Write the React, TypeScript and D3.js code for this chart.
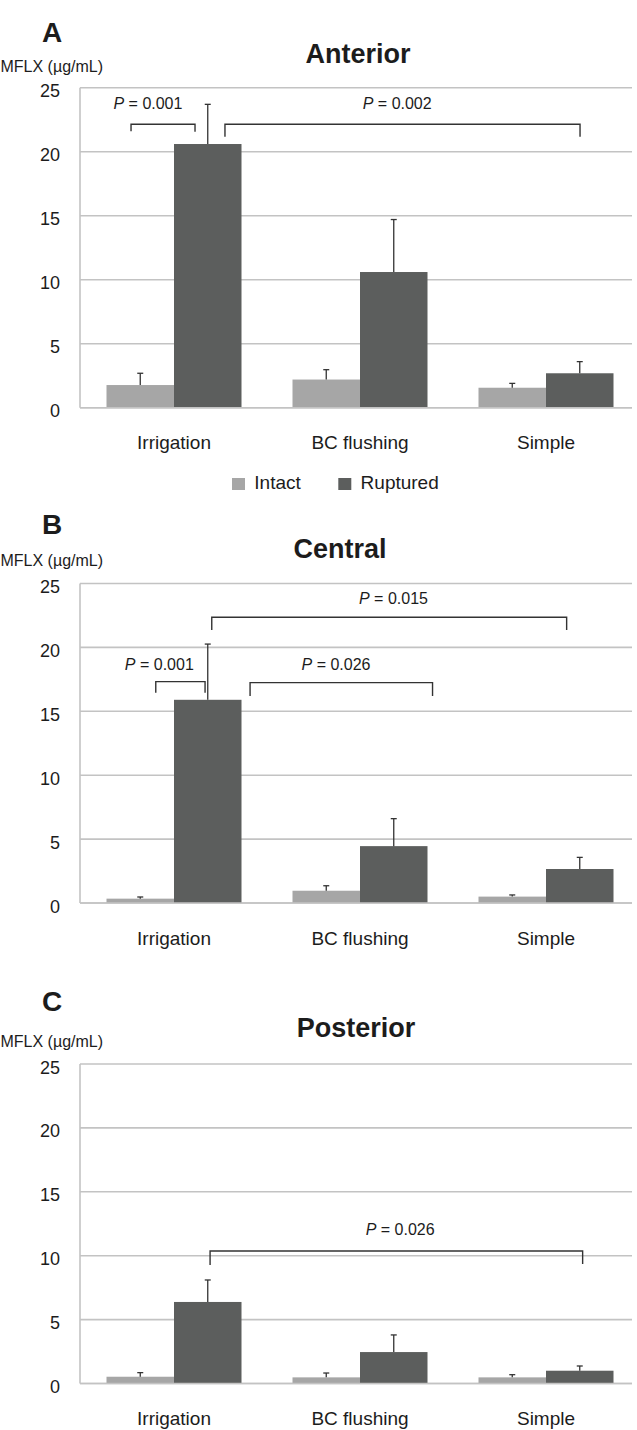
import React from "react";
import * as d3 from "d3";

// ---------- data ----------
const categories = ["Irrigation", "BC flushing", "Simple"];
const seriesNames = ["Intact", "Ruptured"];
const yTicks = [0, 5, 10, 15, 20, 25];

// Panel A: Anterior
const anteriorIntact = [1.77, 2.2, 1.56];
const anteriorIntactSD = [0.92, 0.77, 0.34];
const anteriorRuptured = [20.6, 10.6, 2.69];
const anteriorRupturedSD = [3.1, 4.1, 0.91];

// Panel B: Central
const centralIntact = [0.34, 0.96, 0.5];
const centralIntactSD = [0.13, 0.39, 0.13];
const centralRuptured = [15.9, 4.45, 2.66];
const centralRupturedSD = [4.36, 2.15, 0.91];

// Panel C: Posterior
const posteriorIntact = [0.53, 0.48, 0.48];
const posteriorIntactSD = [0.32, 0.34, 0.21];
const posteriorRuptured = [6.38, 2.46, 1.0];
const posteriorRupturedSD = [1.72, 1.34, 0.37];

// significance brackets: x in category units (0 = centre of first category), y in data units
type Bracket = { x1: number; x2: number; top: number; leg1: number; leg2: number; label: string; lx: number; ly: number };
const anteriorBrackets: Bracket[] = [
  { x1: -0.231, x2: 0.113, top: 22.14, leg1: 21.6, leg2: 21.55, label: "0.001", lx: -0.14, ly: 23.33 },
  { x1: 0.274, x2: 2.183, top: 22.14, leg1: 21.17, leg2: 21.17, label: "0.002", lx: 1.2, ly: 23.33 },
];
const centralBrackets: Bracket[] = [
  { x1: 0.203, x2: 2.111, top: 22.36, leg1: 21.36, leg2: 21.36, label: "0.015", lx: 1.18, ly: 23.38 },
  { x1: -0.098, x2: 0.167, top: 17.32, leg1: 16.46, leg2: 16.46, label: "0.001", lx: -0.079, ly: 18.23 },
  { x1: 0.409, x2: 1.39, top: 17.24, leg1: 16.2, leg2: 16.2, label: "0.026", lx: 0.871, ly: 18.23 },
];
const posteriorBrackets: Bracket[] = [
  { x1: 0.194, x2: 2.197, top: 10.37, leg1: 9.27, leg2: 9.35, label: "0.026", lx: 1.216, ly: 11.62 },
];

// ---------- style ----------
const FONT = "'Liberation Sans', Arial, Helvetica, sans-serif";
const COLORS = ["#a6a6a6", "#5c5e5d"];
const GRID = "#c3c3c3";
const INK = "#333333";
const TEXT = "#1c1c1c";

type PanelCfg = {
  letter: string;
  title: string;
  titleX: number;
  letterY: number;
  titleY: number;
  unitY: number;
  top: number;
  bottom: number;
  intact: number[];
  intactSD: number[];
  ruptured: number[];
  rupturedSD: number[];
  brackets: Bracket[];
  legend: boolean;
};

const panels: PanelCfg[] = [
  {
    letter: "A", title: "Anterior", titleX: 358, letterY: 41.7, titleY: 62.7, unitY: 71.7,
    top: 87.7, bottom: 407.7,
    intact: anteriorIntact, intactSD: anteriorIntactSD, ruptured: anteriorRuptured, rupturedSD: anteriorRupturedSD,
    brackets: anteriorBrackets, legend: true,
  },
  {
    letter: "B", title: "Central", titleX: 340, letterY: 534, titleY: 558, unitY: 566,
    top: 583.5, bottom: 903,
    intact: centralIntact, intactSD: centralIntactSD, ruptured: centralRuptured, rupturedSD: centralRupturedSD,
    brackets: centralBrackets, legend: false,
  },
  {
    letter: "C", title: "Posterior", titleX: 356, letterY: 1010.7, titleY: 1037, unitY: 1047.3,
    top: 1064, bottom: 1383.5,
    intact: posteriorIntact, intactSD: posteriorIntactSD, ruptured: posteriorRuptured, rupturedSD: posteriorRupturedSD,
    brackets: posteriorBrackets, legend: false,
  },
];

const PLOT_LEFT = 80;
const PLOT_RIGHT = 632;
const BAR_W = 67.5;

const x0 = d3.scaleBand<string>().domain(categories).range([81, 639]).paddingInner(0).paddingOuter(0);
const bw = x0.bandwidth();
const x1 = d3.scaleBand<string>().domain(seriesNames).range([bw / 2 - BAR_W, bw / 2 + BAR_W]);
const xc = d3.scaleLinear().domain([-0.5, categories.length - 0.5]).range([81, 639]);

function Panel({ cfg }: { cfg: PanelCfg }) {
  const y = d3.scaleLinear().domain([0, 25]).range([cfg.bottom, cfg.top]);
  const values = [cfg.intact, cfg.ruptured];
  const sds = [cfg.intactSD, cfg.rupturedSD];
  return (
    <g>
      <text x={42} y={cfg.letterY} fontFamily={FONT} fontWeight="bold" fontSize={28} fill={TEXT}>{cfg.letter}</text>
      <text x={cfg.titleX} y={cfg.titleY} fontFamily={FONT} fontWeight="bold" fontSize={27} fill={TEXT} textAnchor="middle">{cfg.title}</text>
      <text x={0.5} y={cfg.unitY} fontFamily={FONT} fontSize={16} fill={TEXT}>MFLX (µg/mL)</text>

      {yTicks.map((t) => (
        <g key={t}>
          <line x1={PLOT_LEFT} x2={PLOT_RIGHT} y1={y(t)} y2={y(t)} stroke={GRID} strokeWidth={1.6} />
          <text x={60} y={y(t) + 9.5} textAnchor="end" fontFamily={FONT} fontSize={18} fill={TEXT}>{t}</text>
        </g>
      ))}
      <line x1={PLOT_LEFT} x2={PLOT_LEFT} y1={y(25)} y2={y(0)} stroke={GRID} strokeWidth={1.6} />

      {categories.map((c, i) => (
        <g key={c} transform={`translate(${x0(c)},0)`}>
          {seriesNames.map((s, si) => {
            const v = values[si][i];
            const top = v + sds[si][i];
            const cx = (x1(s) as number) + BAR_W / 2;
            return (
              <g key={s}>
                <rect x={x1(s)} y={y(v)} width={x1.bandwidth()} height={y(0) - y(v)} fill={COLORS[si]} />
                <line x1={cx} x2={cx} y1={y(v)} y2={y(top)} stroke={INK} strokeWidth={1.3} />
                <line x1={cx - 3} x2={cx + 3} y1={y(top)} y2={y(top)} stroke={INK} strokeWidth={1.3} />
              </g>
            );
          })}
          <text x={bw / 2} y={y(0) + 41.5} textAnchor="middle" fontFamily={FONT} fontSize={19} fill={TEXT}>{c}</text>
        </g>
      ))}
      <line x1={PLOT_LEFT} x2={PLOT_RIGHT} y1={y(0)} y2={y(0)} stroke={GRID} strokeWidth={1.6} />

      {cfg.brackets.map((b, i) => (
        <g key={i}>
          <path
            d={`M${xc(b.x1)},${y(b.leg1)}V${y(b.top)}H${xc(b.x2)}V${y(b.leg2)}`}
            fill="none" stroke={INK} strokeWidth={1.4}
          />
          <text x={xc(b.lx)} y={y(b.ly)} textAnchor="middle" fontFamily={FONT} fontSize={16} fill={TEXT}>
            <tspan fontStyle="italic">P</tspan>
            <tspan> = {b.label}</tspan>
          </text>
        </g>
      ))}

      {cfg.legend && (
        <g>
          {seriesNames.map((s, si) => {
            const lx = [232, 338.3][si];
            return (
              <g key={s}>
                <rect x={lx} y={478} width={13} height={12} fill={COLORS[si]} />
                <text x={lx + 22.3} y={489.3} fontFamily={FONT} fontSize={19} fill={TEXT}>{s}</text>
              </g>
            );
          })}
        </g>
      )}
    </g>
  );
}

export default function App() {
  return (
    <div style={{ position: "absolute", left: 0, top: 0, background: "#fff" }}>
      <svg width={637} height={1430} viewBox="0 0 637 1430" style={{ display: "block" }}>
        <rect width={637} height={1430} fill="#fff" />
        {panels.map((p) => (
          <Panel key={p.letter} cfg={p} />
        ))}
      </svg>
    </div>
  );
}
